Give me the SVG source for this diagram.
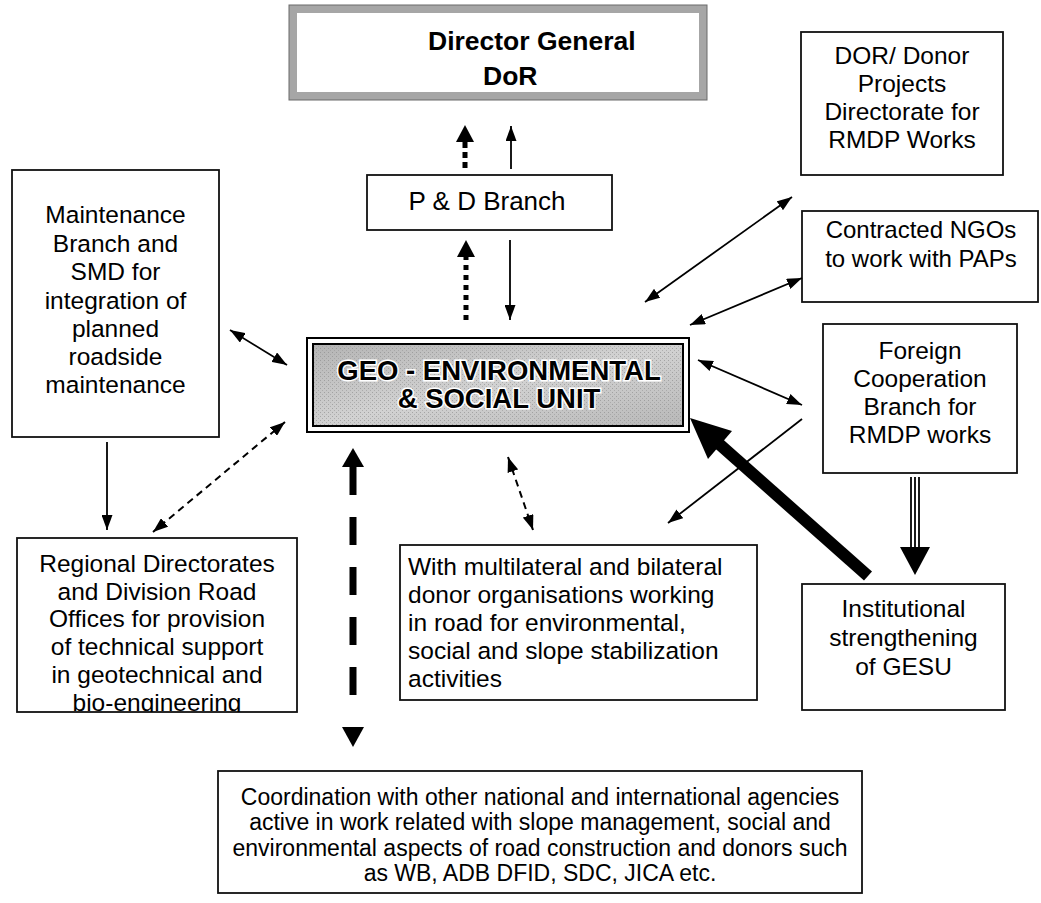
<svg xmlns="http://www.w3.org/2000/svg" width="1041" height="903" viewBox="0 0 1041 903">
<style>
text{font-family:"Liberation Sans",Arial,sans-serif;fill:#000}
.t{font-size:24.5px;text-anchor:middle}
.c{font-size:23px;text-anchor:middle}
.n{font-size:24px;text-anchor:middle}
.box{fill:#fff;stroke:#111;stroke-width:1.8}
.ln{stroke:#000;stroke-width:1.8;fill:none}
.dash{stroke:#000;stroke-width:2;stroke-dasharray:7 5;fill:none}
</style>
<defs>
<marker id="a" viewBox="0 0 15 11" refX="15" refY="5.5" markerWidth="15" markerHeight="11" markerUnits="userSpaceOnUse" orient="auto-start-reverse"><path d="M0,0 L15,5.5 L0,11 z" fill="#000"/></marker>
<clipPath id="rc"><rect x="17" y="538" width="280" height="174"/></clipPath>
<linearGradient id="geo" x1="0" y1="0" x2="1" y2="1"><stop offset="0" stop-color="#b4b4b4"/><stop offset="0.5" stop-color="#d2d2d2"/><stop offset="1" stop-color="#b8b8b8"/></linearGradient>
<pattern id="dith" width="4" height="4" patternUnits="userSpaceOnUse"><rect width="1" height="1" fill="#888"/><rect x="2" y="2" width="1" height="1" fill="#999"/></pattern>
</defs>
<rect width="1041" height="903" fill="#fff"/>

<g id="director-general">
<rect x="293" y="9" width="410" height="87" fill="#fff" stroke="#a6a6a6" stroke-width="8"/>
<rect x="289" y="5" width="418" height="95" fill="none" stroke="#6a6a6a" stroke-width="1"/>
<text x="428" y="50" font-size="26.5" font-weight="bold">Director General</text>
<text x="483" y="85" font-size="26.5" font-weight="bold">DoR</text>
</g>

<g id="dor-donor">
<rect class="box" x="801" y="32" width="202" height="143"/>
<text class="t" x="902" y="64">DOR/ Donor</text>
<text class="t" x="902" y="92">Projects</text>
<text class="t" x="902" y="120">Directorate for</text>
<text class="t" x="902" y="148">RMDP Works</text>
</g>

<g id="pd-branch">
<rect class="box" x="367" y="175" width="245" height="55"/>
<text x="487" y="210" font-size="26" text-anchor="middle">P &amp; D Branch</text>
</g>

<g id="maintenance">
<rect class="box" x="12" y="170" width="207" height="267"/>
<text class="t" x="115.5" y="223">Maintenance</text>
<text class="t" x="115.5" y="251.5">Branch and</text>
<text class="t" x="115.5" y="280">SMD for</text>
<text class="t" x="115.5" y="308.5">integration of</text>
<text class="t" x="115.5" y="337">planned</text>
<text class="t" x="115.5" y="365">roadside</text>
<text class="t" x="115.5" y="393">maintenance</text>
</g>

<g id="contracted-ngos">
<rect class="box" x="802" y="211" width="236" height="91"/>
<text class="n" x="921" y="238">Contracted NGOs</text>
<text class="n" x="921" y="267">to work with PAPs</text>
</g>

<g id="geo-unit">
<rect x="307" y="338" width="382" height="94" fill="#fff" stroke="#000" stroke-width="2"/>
<rect x="313" y="344" width="370" height="82" fill="url(#geo)" stroke="#000" stroke-width="2"/>
<rect x="314" y="345" width="368" height="80" fill="url(#dith)" opacity="0.6"/>
<text x="499" y="380" font-size="27.5" font-weight="bold" text-anchor="middle" stroke="#fff" stroke-width="3" paint-order="stroke">GEO - ENVIRONMENTAL</text>
<text x="499" y="408" font-size="27.5" font-weight="bold" text-anchor="middle" stroke="#fff" stroke-width="3" paint-order="stroke">&amp; SOCIAL UNIT</text>
</g>

<g id="foreign-cooperation">
<rect class="box" x="823" y="324" width="194" height="149"/>
<text class="t" x="920" y="359">Foreign</text>
<text class="t" x="920" y="387">Cooperation</text>
<text class="t" x="920" y="415">Branch for</text>
<text class="t" x="920" y="443">RMDP works</text>
</g>

<g id="regional-directorates">
<rect class="box" x="17" y="538" width="280" height="174"/>
<g clip-path="url(#rc)">
<text class="t" x="157" y="572">Regional Directorates</text>
<text class="t" x="157" y="600">and Division Road</text>
<text class="t" x="157" y="627">Offices for provision</text>
<text class="t" x="157" y="655">of technical support</text>
<text class="t" x="157" y="683">in geotechnical and</text>
<text class="t" x="157" y="711">bio-engineering</text>
</g>
</g>

<g id="multilateral-donors">
<rect class="box" x="400" y="545" width="357" height="155"/>
<text x="408" y="575" font-size="24.5">With multilateral and bilateral</text>
<text x="408" y="603" font-size="24.5">donor organisations working</text>
<text x="408" y="631" font-size="24.5">in road for environmental,</text>
<text x="408" y="659" font-size="24.5">social and slope stabilization</text>
<text x="408" y="687" font-size="24.5">activities</text>
</g>

<g id="institutional">
<rect class="box" x="802" y="584" width="203" height="126"/>
<text class="t" x="903.5" y="617">Institutional</text>
<text class="t" x="903.5" y="646">strengthening</text>
<text class="t" x="903.5" y="675">of GESU</text>
</g>

<g id="coordination">
<rect class="box" x="218" y="771" width="644" height="122"/>
<text class="c" x="540" y="805">Coordination with other national and international agencies</text>
<text class="c" x="540" y="830">active in work related with slope management, social and</text>
<text class="c" x="540" y="856">environmental aspects of road construction and donors such</text>
<text class="c" x="540" y="881">as WB, ADB DFID, SDC, JICA etc.</text>
</g>

<g id="connectors">
<line x1="465" y1="168" x2="465" y2="142" stroke="#000" stroke-width="5" stroke-dasharray="6 4"/>
<polygon points="456,142 474,142 465,125"/>
<line class="ln" x1="511" y1="169" x2="511" y2="126" marker-end="url(#a)"/>
<line x1="466" y1="320" x2="466" y2="257" stroke="#000" stroke-width="5" stroke-dasharray="5 5"/>
<polygon points="457,257 475,257 466,240"/>
<line class="ln" x1="510" y1="240" x2="510" y2="320" marker-end="url(#a)"/>
<line class="ln" x1="645" y1="302" x2="792" y2="197" marker-start="url(#a)" marker-end="url(#a)"/>
<line class="ln" x1="690" y1="325" x2="802" y2="278" marker-start="url(#a)" marker-end="url(#a)"/>
<line class="ln" x1="698" y1="360" x2="802" y2="405" marker-start="url(#a)" marker-end="url(#a)"/>
<line class="ln" x1="802" y1="419" x2="668" y2="523" marker-end="url(#a)"/>
<line class="ln" x1="230" y1="330" x2="287" y2="365" marker-start="url(#a)" marker-end="url(#a)"/>
<line class="dash" x1="285" y1="422" x2="153" y2="532" marker-start="url(#a)" marker-end="url(#a)"/>
<line class="ln" x1="107" y1="442" x2="107" y2="530" marker-end="url(#a)"/>
<line class="dash" x1="508" y1="457" x2="533" y2="530" marker-start="url(#a)" marker-end="url(#a)"/>
<polygon points="342,467 364,467 353,448"/>
<line x1="353" y1="467" x2="353" y2="700" stroke="#000" stroke-width="7" stroke-dasharray="28 22"/>
<polygon points="342,727 364,727 353,747"/>
<line x1="868" y1="576" x2="718" y2="443" stroke="#000" stroke-width="12"/>
<polygon points="690,418 732,431 708,459"/>
<line class="ln" x1="911" y1="477" x2="911" y2="548" stroke-width="1.3"/>
<line class="ln" x1="915" y1="477" x2="915" y2="548" stroke-width="1.3"/>
<line class="ln" x1="919" y1="477" x2="919" y2="548" stroke-width="1.3"/>
<polygon points="900,547 930,547 915,575"/>
</g>
</svg>
